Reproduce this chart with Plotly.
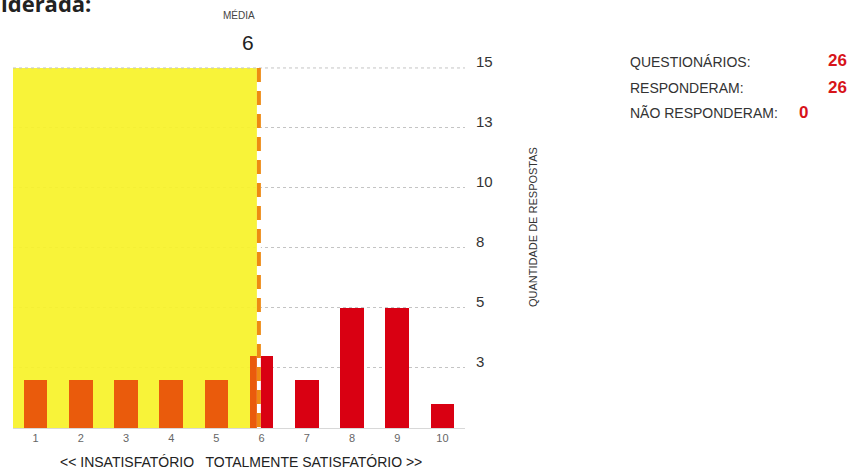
import plotly.graph_objects as go

# ---------------- data ----------------
notas = [1, 2, 3, 4, 5, 6, 7, 8, 9, 10]
respostas = [2, 2, 2, 2, 2, 3, 2, 5, 5, 1]
media_texto = "6"
media_pos = 5.94          # position of the dashed mean line
ytick_vals = [2.5, 5, 7.5, 10, 12.5, 15]
ytick_text = ["3", "5", "8", "10", "13", "15"]
stat_labels = ["QUESTIONÁRIOS:", "RESPONDERAM:", "NÃO RESPONDERAM:"]
stat_values = ["26", "26", "0"]

# ---------------- geometry helpers ----------------
W, H = 858, 474
L, R, T, B = 13, 465, 67, 428
def px(x):
    return (x - L) / (R - L)
def py(y):
    return (B - y) / (B - T)

YELLOW = "#F8F22A"
ORANGE = "#EA5B0C"
RED = "#D90012"
LINE_OR = "#EE8A12"
GRID = "#c4c4c4"
bar_w = 0.52

fig = go.Figure()

# top dotted reference line at the maximum tick
fig.add_trace(go.Scatter(x=[0.5, 10.5], y=[ytick_vals[-1]] * 2, mode="lines",
                         line=dict(color=GRID, width=1, dash="dot"),
                         hoverinfo="skip", showlegend=False))

# red bars (all)
fig.add_trace(go.Bar(x=notas, y=respostas, width=bar_w, marker_color=RED,
                     marker_line_width=0, hoverinfo="skip", showlegend=False))

# orange part of bars left of the mean line
o_x, o_y, o_w, o_off = [], [], [], []
for n, r in zip(notas, respostas):
    left = n - bar_w / 2
    right = min(n + bar_w / 2, media_pos)
    if right > left:
        o_x.append(n); o_y.append(r); o_w.append(right - left); o_off.append(-bar_w / 2)
fig.add_trace(go.Bar(x=o_x, y=o_y, width=o_w, offset=o_off, marker_color=ORANGE,
                     marker_line_width=0, hoverinfo="skip", showlegend=False))

# mean line (white under, dashed orange on top)
fig.add_trace(go.Scatter(x=[media_pos, media_pos], y=[0, 15], mode="lines",
                         line=dict(color="white", width=4), hoverinfo="skip", showlegend=False))
fig.add_trace(go.Scatter(x=[media_pos, media_pos], y=[15, 0], mode="lines",
                         line=dict(color=LINE_OR, width=4, dash="14px,9px"),
                         hoverinfo="skip", showlegend=False))

# yellow zone
fig.add_shape(type="rect", xref="x", yref="y", x0=0.5, x1=media_pos - 0.04, y0=0, y1=15,
              fillcolor=YELLOW, opacity=0.93, line_width=0, layer="between")

annotations = []
# y tick labels (right)
for v, t in zip(ytick_vals, ytick_text):
    annotations.append(dict(x=px(474), xref="paper", y=v, yref="y", text=t,
                            xanchor="left", yanchor="middle", yshift=6, showarrow=False,
                            font=dict(size=15, color="#333", family="Liberation Sans")))
# axis title
annotations.append(dict(x=px(533), xref="paper", y=py(227), yref="paper",
                        text="QUANTIDADE DE RESPOSTAS", textangle=-90, showarrow=False,
                        xanchor="center", yanchor="middle",
                        font=dict(size=11, color="#333", family="Liberation Sans")))
# bottom caption
annotations.append(dict(x=px(241), xref="paper", y=py(462), yref="paper",
                        text="<< INSATISFATÓRIO   TOTALMENTE SATISFATÓRIO >>",
                        showarrow=False, xanchor="center", yanchor="middle",
                        font=dict(size=14, color="#222", family="Liberation Sans")))
# média
annotations.append(dict(x=media_pos, xref="x", y=py(15), yref="paper", text="MÉDIA",
                        xanchor="right", yanchor="middle", xshift=-2, showarrow=False,
                        font=dict(size=10, color="#444", family="Liberation Sans")))
annotations.append(dict(x=media_pos, xref="x", y=py(42), yref="paper", text=media_texto,
                        xanchor="right", yanchor="middle", xshift=-3, showarrow=False,
                        font=dict(size=21, color="#222", family="Liberation Sans")))
# cropped heading from previous text (cut at the top edge, as in the reference)
annotations.append(dict(x=px(-1), xref="paper", y=py(20), yref="paper", text="<b>iderada:</b>",
                        xanchor="left", yanchor="bottom", showarrow=False,
                        font=dict(size=22, color="#222", family="Open Sans")))
# stats
rows_y = [62, 88, 113]
val_x = [826, 826, 797]
for lab, val, yy, vx in zip(stat_labels, stat_values, rows_y, val_x):
    annotations.append(dict(x=px(628), xref="paper", y=py(yy), yref="paper", text=lab,
                            xanchor="left", yanchor="middle", showarrow=False,
                            font=dict(size=14, color="#333", family="Liberation Sans")))
    annotations.append(dict(x=px(vx), xref="paper", y=py(yy - 1), yref="paper", text="<b>" + val + "</b>",
                            xanchor="left", yanchor="middle", showarrow=False,
                            font=dict(size=17, color="#D7141A", family="Liberation Sans")))

fig.update_layout(
    width=W, height=H,
    margin=dict(l=L, r=W - R, t=T, b=H - B),
    paper_bgcolor="white", plot_bgcolor="white",
    barmode="overlay", bargap=0,
    annotations=annotations,
    xaxis=dict(range=[0.5, 10.5], tickvals=notas, ticktext=[str(n) for n in notas],
               showgrid=False, zeroline=False, showline=True, linecolor="#d8d8d8",
               linewidth=1, ticks="", fixedrange=True,
               tickfont=dict(size=11, color="#666", family="Liberation Sans")),
    yaxis=dict(range=[0, 15.04], side="right", tickvals=ytick_vals, showticklabels=False,
               showgrid=True, gridcolor=GRID, griddash="dot", gridwidth=1,
               zeroline=False, showline=False, ticks="", fixedrange=True),
)

fig.write_html("out.html", config={"displayModeBar": False},
               post_script="document.body.style.margin='0';document.body.style.overflow='hidden';")
